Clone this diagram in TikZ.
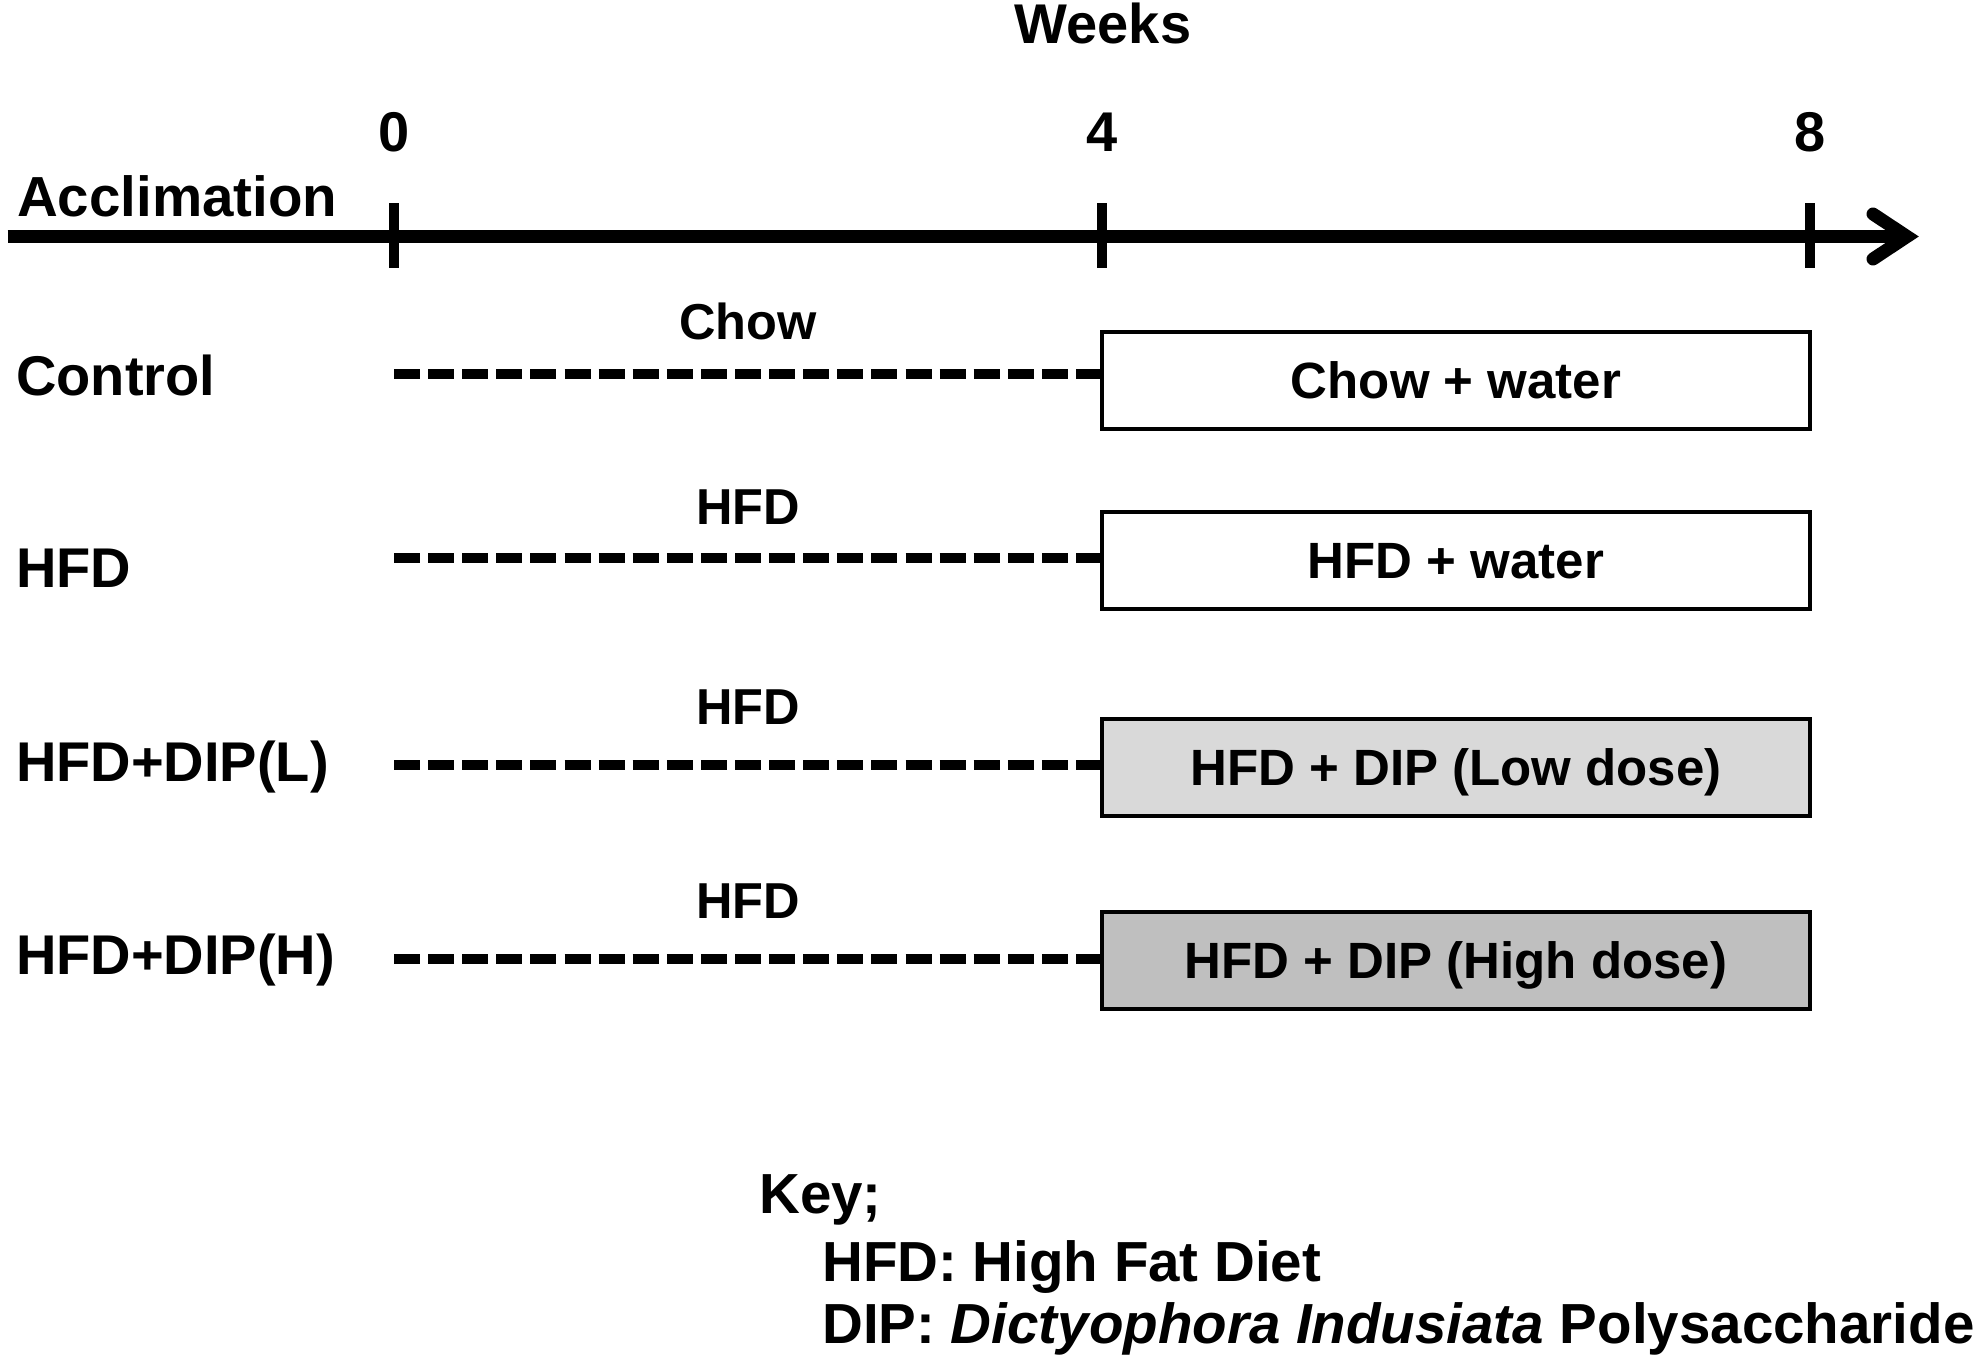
\documentclass[tikz,border=0pt]{standalone}
\usepackage{fontspec}
\setmainfont{Liberation Sans}
\begin{document}
\begin{tikzpicture}[x=1pt,y=-1pt,
  lbl/.style={inner sep=0pt, font=\bfseries\fontsize{56}{60}\selectfont},
  keytext/.style={inner sep=0pt, anchor=base west, font=\bfseries\fontsize{56.5}{60}\selectfont},
  dietlbl/.style={inner sep=0pt, anchor=base, font=\bfseries\fontsize{50.5}{55}\selectfont},
  phase/.style={draw=black, line width=4pt, minimum width=708pt, minimum height=97pt,
    inner sep=0pt, text height=36.5pt, text depth=0pt, font=\bfseries\fontsize{51}{55}\selectfont},
  diet/.style={line width=10pt, dash pattern=on 26pt off 8.1pt},
  tickmark/.style={line width=9.5pt},
  axisline/.style={line width=13pt},
  chevron/.style={line width=13pt, line cap=round, line join=miter},
]
\useasboundingbox (0,0) rectangle (1984,1363);
\fill[white] (0,0) rectangle (1984,1363);

% title and week labels
\node[lbl, anchor=base] (weeks) at (1103,43) {Weeks};
\node[lbl, anchor=base] (w0) at (394,151) {0};
\node[lbl, anchor=base] (w4) at (1102,151) {4};
\node[lbl, anchor=base] (w8) at (1810,151) {8};
\node[lbl, anchor=base west, font=\bfseries\fontsize{56.5}{60}\selectfont] (accl) at (17,216) {Acclimation};

% axis
\coordinate (axs) at (7.6,236.5);
\coordinate (axe) at (1900,236.5);
\draw[axisline] (axs) -- (axe);
\coordinate (cht) at (1873,214);
\coordinate (chm) at (1907,236.5);
\coordinate (chb) at (1873,259);
\draw[chevron] (cht) -- (chm) -- (chb);
\foreach \x/\n in {394/a,1102/b,1810/c}{
  \coordinate (tk\n1) at (\x,203);
  \coordinate (tk\n2) at (\x,268);
  \draw[tickmark] (tk\n1) -- (tk\n2);
}

% group labels
\node[lbl, anchor=base west] (g1) at (16,395) {Control};
\node[lbl, anchor=base west] (g2) at (16,587) {HFD};
\node[lbl, anchor=base west] (g3) at (16,781) {HFD+DIP(L)};
\node[lbl, anchor=base west] (g4) at (16,974.6) {HFD+DIP(H)};

% treatment boxes
\node[phase, fill=white] (b1) at (1456,380.5) {Chow + water};
\node[phase, fill=white] (b2) at (1456,560.4) {HFD + water};
\node[phase, fill=black!15] (b3) at (1456,767.2) {HFD + DIP (Low dose)};
\node[phase, fill=black!25] (b4) at (1456,960.5) {HFD + DIP (High dose)};

% diet lines
\coordinate (d1) at (394,374);
\coordinate (d2) at (394,558);
\coordinate (d3) at (394,765);
\coordinate (d4) at (394,958.6);
\draw[diet] (d1) -- (d1 -| b1.west);
\draw[diet] (d2) -- (d2 -| b2.west);
\draw[diet] (d3) -- (d3 -| b3.west);
\draw[diet] (d4) -- (d4 -| b4.west);
\node[dietlbl] (l1) at (748,339) {Chow};
\node[dietlbl] (l2) at (748,524.6) {HFD};
\node[dietlbl] (l3) at (748,724.6) {HFD};
\node[dietlbl] (l4) at (748,918.6) {HFD};

% key
\node[keytext] (k0) at (759,1213) {Key;};
\node[keytext] (k1) at (822,1281) {HFD: High Fat Diet};
\node[keytext] (k2) at (822,1343) {DIP: \textit{Dictyophora Indusiata} Polysaccharide};
\end{tikzpicture}
\end{document}
